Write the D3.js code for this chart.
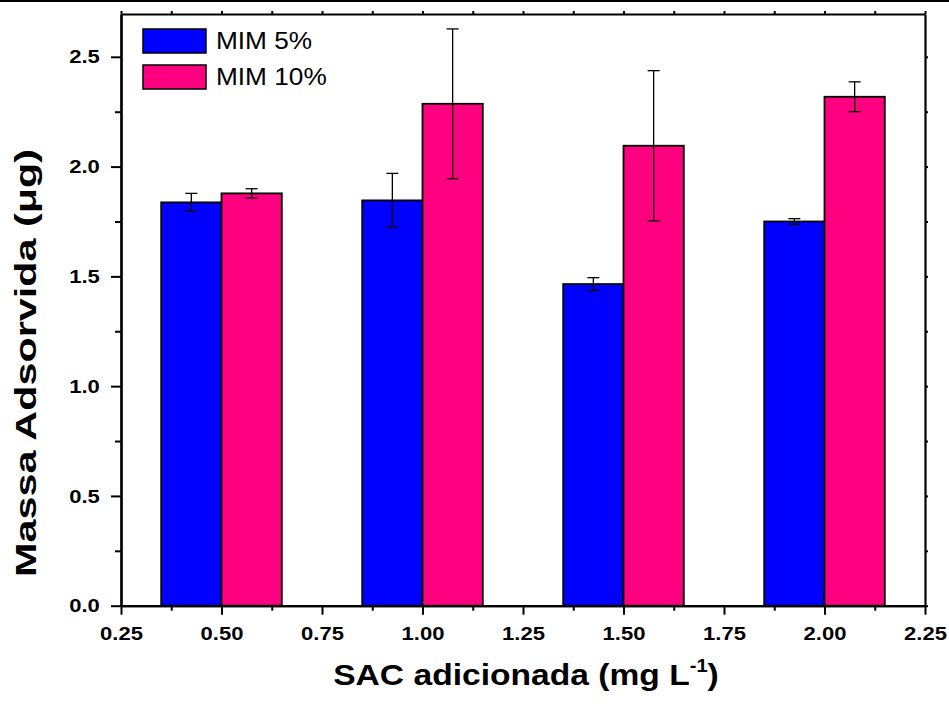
<!DOCTYPE html>
<html>
<head>
<meta charset="utf-8">
<script src="https://cdn.jsdelivr.net/npm/d3@7"></script>
<style>
  html, body { margin: 0; padding: 0; background: #fff; }
  svg { display: block; font-family: Arial, "Liberation Sans", sans-serif; }
</style>
</head>
<body>
<svg id="chart" width="949" height="708"></svg>
<script>
// ---- data ----
const categories = [0.5, 1.0, 1.5, 2.0];
const seriesNames = ["MIM 5%", "MIM 10%"];
const mim5 = [1.837, 1.846, 1.465, 1.750];
const mim5Err = [0.041, 0.123, 0.029, 0.013];
const mim10 = [1.878, 2.286, 2.095, 2.318];
const mim10Err = [0.021, 0.341, 0.342, 0.068];
const xTicks = [0.25, 0.50, 0.75, 1.00, 1.25, 1.50, 1.75, 2.00, 2.25];
const yTicks = [0.0, 0.5, 1.0, 1.5, 2.0, 2.5];
const colors = ["#0000FF", "#FF0080"];
const barWidth = 0.15;

const svg = d3.select("#chart");
svg.append("rect").attr("width", 949).attr("height", 708).attr("fill", "#fff");
// top border line of the figure
svg.append("line").attr("x1", 0).attr("x2", 949).attr("y1", 1).attr("y2", 1)
  .attr("stroke", "#000").attr("stroke-width", 2);

const L = 121, R = 925, T = 14, B = 605.7;
const x = d3.scaleLinear().domain([0.25, 2.25]).range([L, R]);
const y = d3.scaleLinear().domain([0, 2.695]).range([B, T]);

const series = [
  { name: seriesNames[0], vals: mim5, err: mim5Err, color: colors[0], off: -barWidth },
  { name: seriesNames[1], vals: mim10, err: mim10Err, color: colors[1], off: 0 }
];

// bars
series.forEach(s => {
  svg.append("g").selectAll("rect").data(categories).join("rect")
    .attr("x", (c) => x(c + s.off))
    .attr("y", (c, i) => y(s.vals[i]))
    .attr("width", (c) => x(c + s.off + barWidth) - x(c + s.off))
    .attr("height", (c, i) => y(0) - y(s.vals[i]))
    .attr("fill", s.color)
    .attr("stroke", "#000")
    .attr("stroke-width", 1.8);
});

// error bars
series.forEach(s => {
  const g = svg.append("g").attr("stroke", "#000").attr("stroke-width", 1.3);
  categories.forEach((c, i) => {
    const cx = x(c + s.off + barWidth / 2);
    const y1 = y(s.vals[i] + s.err[i]), y2 = y(s.vals[i] - s.err[i]);
    g.append("line").attr("x1", cx).attr("x2", cx).attr("y1", y1).attr("y2", y2);
    g.append("line").attr("x1", cx - 6).attr("x2", cx + 6).attr("y1", y1).attr("y2", y1);
    g.append("line").attr("x1", cx - 6).attr("x2", cx + 6).attr("y1", y2).attr("y2", y2);
  });
});

// axes
const xMinor = d3.range(0.375, 2.25, 0.25);
const yMinor = d3.range(0.25, 2.7, 0.5);

const xAxis = svg.append("g").attr("transform", `translate(0,${B})`)
  .call(d3.axisBottom(x).tickValues(xTicks).tickFormat(d3.format(".2f")).tickSize(9).tickSizeOuter(0));
const xAxisMinor = svg.append("g").attr("transform", `translate(0,${B})`)
  .call(d3.axisBottom(x).tickValues(xMinor).tickFormat("").tickSize(5).tickSizeOuter(0));
const yAxis = svg.append("g").attr("transform", `translate(${L},0)`)
  .call(d3.axisLeft(y).tickValues(yTicks).tickFormat(d3.format(".1f")).tickSize(10).tickSizeOuter(0));
const yAxisMinor = svg.append("g").attr("transform", `translate(${L},0)`)
  .call(d3.axisLeft(y).tickValues(yMinor).tickFormat("").tickSize(6).tickSizeOuter(0));
const xTop = svg.append("g").attr("transform", `translate(0,${T})`)
  .call(d3.axisTop(x).tickValues(xTicks.concat(xMinor)).tickFormat("").tickSize(3).tickSizeOuter(0));
const yRight = svg.append("g").attr("transform", `translate(${R},0)`)
  .call(d3.axisRight(y).tickValues(yTicks.concat(yMinor)).tickFormat("").tickSize(3).tickSizeOuter(0));

[xAxis, xAxisMinor, yAxis, yAxisMinor, xTop, yRight].forEach(a => {
  a.select(".domain").attr("stroke", "#000").attr("stroke-width", 2.2);
  a.selectAll(".tick line").attr("stroke", "#000").attr("stroke-width", 2);
});
xAxis.selectAll(".tick text").attr("font-size", 19).attr("font-weight", "bold")
  .attr("fill", "#000").attr("dy", "0.71em").attr("y", 21)
  .attr("transform", "scale(1.16,1)");
yAxis.selectAll(".tick text").attr("font-size", 19).attr("font-weight", "bold")
  .attr("fill", "#000").attr("x", -18.3)
  .attr("transform", "scale(1.16,1)");

// axis titles
const xt = svg.append("text").attr("transform", "translate(526,685) scale(1.12,1)")
  .attr("text-anchor", "middle").attr("font-size", 30).attr("font-weight", "bold").attr("fill", "#000");
xt.append("tspan").text("SAC adicionada (mg L");
xt.append("tspan").attr("dy", -13).attr("font-size", 18).text("-1");
xt.append("tspan").attr("dy", 13).text(")");

svg.append("text").attr("transform", "translate(36,363) rotate(-90)")
  .attr("text-anchor", "middle").attr("font-size", 29).attr("font-weight", "bold").attr("fill", "#000")
  .attr("textLength", 428).attr("lengthAdjust", "spacingAndGlyphs")
  .text("Massa Adsorvida (μg)");

// legend
const leg = svg.append("g");
series.forEach((s, i) => {
  const ly = 29 + i * 36;
  leg.append("rect").attr("x", 143).attr("y", ly).attr("width", 63).attr("height", 24)
    .attr("fill", s.color).attr("stroke", "#000").attr("stroke-width", 1.5);
  leg.append("text").attr("transform", `translate(216,${ly + 20}) scale(1.14,1)`)
    .attr("font-size", 23).attr("fill", "#000")
    .text(s.name);
});
</script>
</body>
</html>
